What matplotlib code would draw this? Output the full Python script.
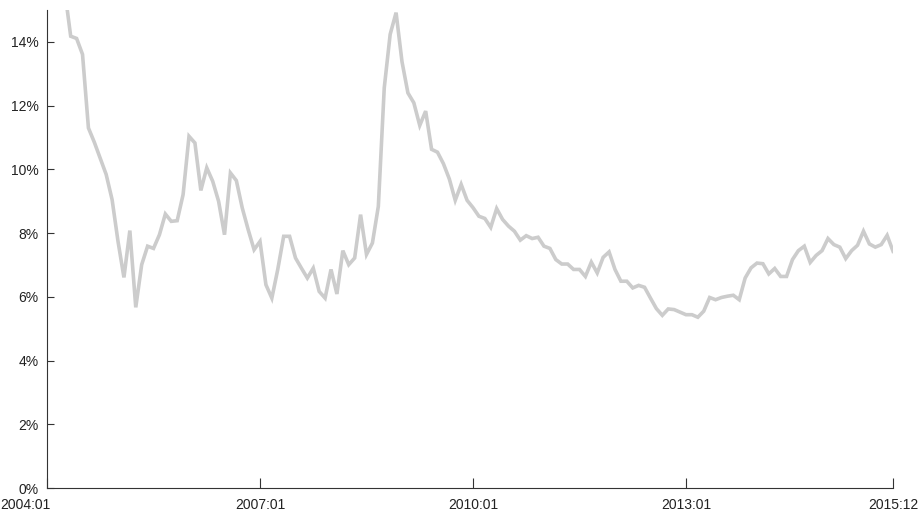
import numpy as np
import pandas as pd
import matplotlib
matplotlib.use("Agg")
import matplotlib.pyplot as plt
from matplotlib.ticker import PercentFormatter
from matplotlib.transforms import ScaledTranslation

plt.rcParams["font.family"] = ["Liberation Sans", "DejaVu Sans"]

# Monthly series, 2004:01 - 2015:12 (first months lie above the plotted range)
start_month = "2004-04"
values = [
    15.6, 14.18, 14.11, 13.61, 11.30, 10.85, 10.35, 9.84, 9.05,
    7.74, 6.61, 8.08, 5.67, 7.01, 7.59, 7.52, 7.95, 8.60, 8.37,
    8.39, 9.21, 11.04, 10.83, 9.34, 10.05, 9.63, 9.00, 7.95, 9.89,
    9.65, 8.79, 8.11, 7.48, 7.74, 6.38, 5.96, 6.86, 7.90, 7.90,
    7.22, 6.90, 6.59, 6.90, 6.17, 5.96, 6.86, 6.09, 7.45, 7.01,
    7.22, 8.58, 7.33, 7.69, 8.84, 12.56, 14.24, 14.92, 13.38, 12.40,
    12.09, 11.38, 11.83, 10.63, 10.54, 10.18, 9.70, 9.03, 9.53, 9.03,
    8.80, 8.53, 8.46, 8.18, 8.77, 8.43, 8.22, 8.06, 7.78, 7.92,
    7.83, 7.87, 7.59, 7.52, 7.17, 7.03, 7.03, 6.86, 6.86, 6.64,
    7.09, 6.75, 7.24, 7.41, 6.86, 6.49, 6.49, 6.28, 6.36, 6.30,
    5.96, 5.63, 5.42, 5.62, 5.60, 5.52, 5.44, 5.44, 5.36, 5.55,
    5.98, 5.91, 5.98, 6.02, 6.05, 5.91, 6.59, 6.91, 7.06, 7.04,
    6.72, 6.89, 6.64, 6.64, 7.17, 7.45, 7.59, 7.08, 7.30, 7.45,
    7.83, 7.64, 7.56, 7.20, 7.45, 7.62, 8.06, 7.66, 7.56, 7.64,
    7.93, 7.43,
]

all_months = pd.period_range("2004-01", "2015-12", freq="M")
tick_labels = ["2004:01", "2007:01", "2010:01", "2013:01", "2015:12"]
y_ticks = [0, 2, 4, 6, 8, 10, 12, 14]

months = pd.period_range(start_month, periods=len(values), freq="M")
x = [all_months.get_loc(m) for m in months]
tick_pos = [all_months.get_loc(pd.Period(t.replace(":", "-"), freq="M")) for t in tick_labels]

fig = plt.figure(figsize=(9.22, 5.15), dpi=100)
ax = fig.add_axes([0.051, 0.0524, 0.9176, 0.928])

ax.plot(x, values, color="#cccccc", linewidth=2.6, solid_joinstyle="miter")

ax.set_xlim(0, len(all_months) - 1)
ax.set_ylim(0, 15)
ax.set_xticks(tick_pos)
ax.set_xticklabels(tick_labels)
ax.set_yticks(y_ticks)
ax.yaxis.set_major_formatter(PercentFormatter(decimals=0))

for side in ["top", "right"]:
    ax.spines[side].set_visible(False)
for side in ["left", "bottom"]:
    ax.spines[side].set_color("#333333")
    ax.spines[side].set_linewidth(0.8)

ax.tick_params(axis="both", direction="in", color="#333333", labelsize=10,
               labelcolor="#222222", width=0.8)
ax.tick_params(axis="y", length=5, pad=6)
ax.tick_params(axis="x", length=7, pad=7.5)

# first date label sits flush with the left edge of the figure
first = ax.get_xticklabels()[0]
first.set_horizontalalignment("left")
first.set_transform(first.get_transform() + ScaledTranslation(-0.47, 0, fig.dpi_scale_trans))

fig.savefig("out.png", dpi=100)
